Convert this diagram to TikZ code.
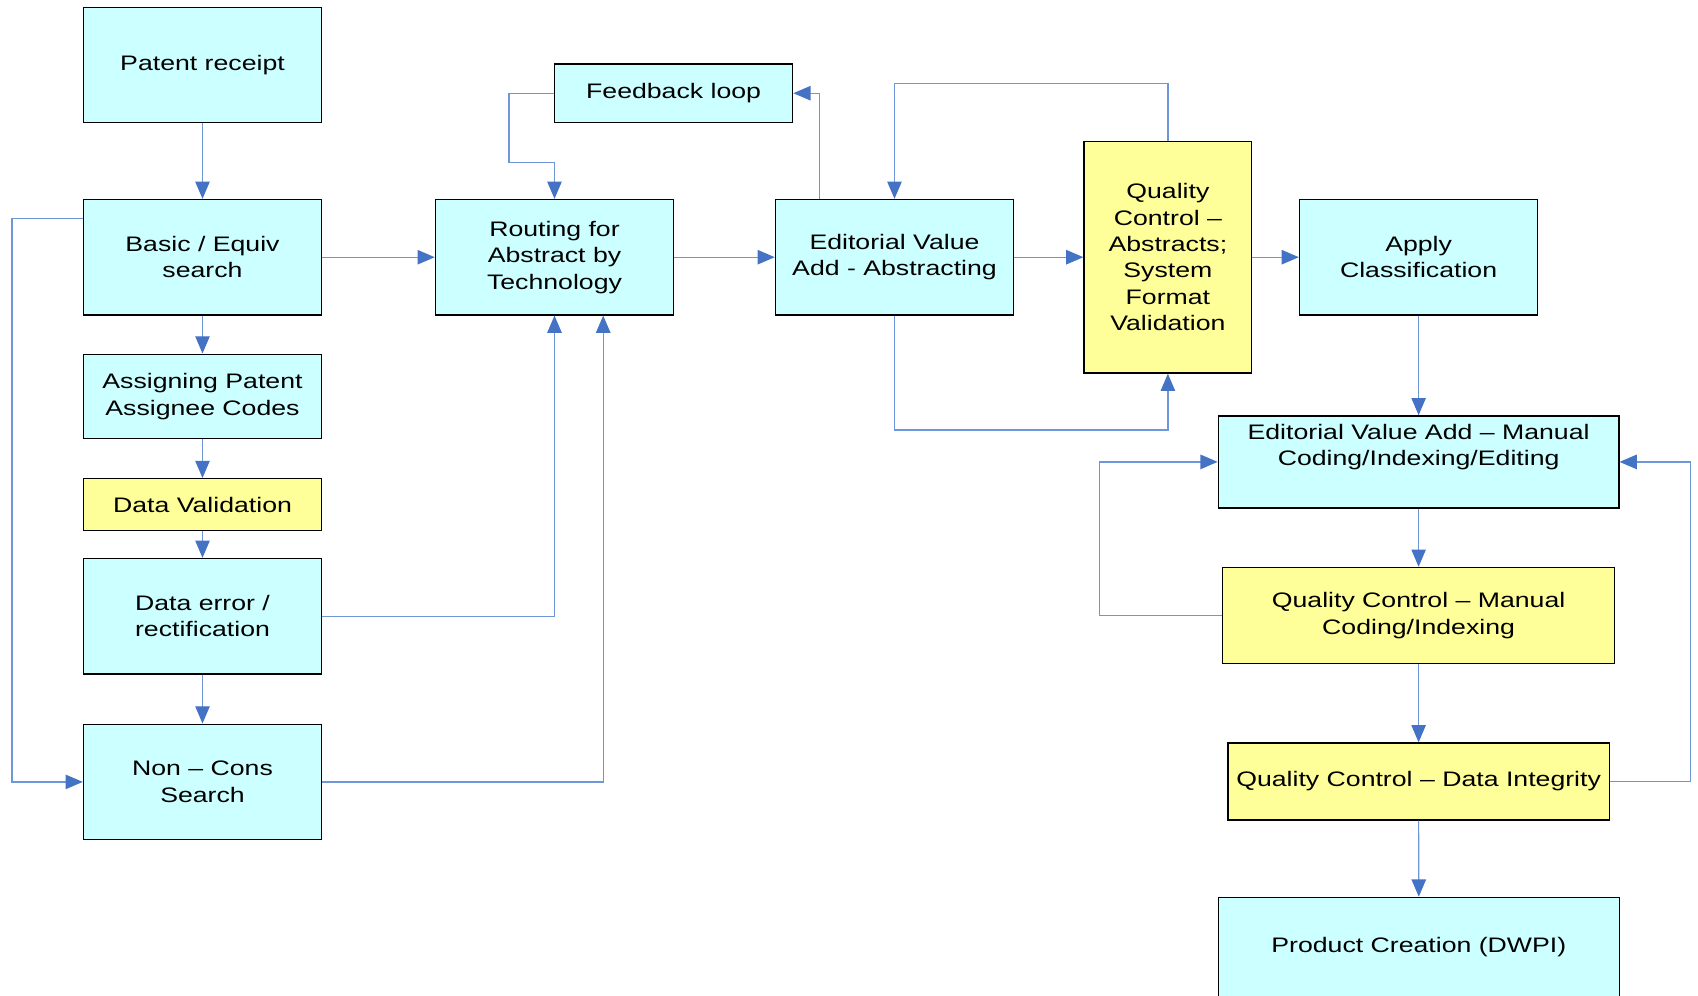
\documentclass[tikz,border=0pt]{standalone}
\usepackage{fontspec}
\setmainfont{Liberation Sans}[FakeStretch=1.27]
\usetikzlibrary{arrows.meta}
\definecolor{boxcyan}{HTML}{CCFFFF}
\definecolor{boxyellow}{HTML}{FFFF99}
\definecolor{lineblue}{HTML}{6F96D6}
\definecolor{tipblue}{HTML}{4472C4}
\begin{document}
\begin{tikzpicture}[x=0.5pt,y=-0.5pt,
  txt/.style={font={\fontsize{10.5pt}{13.2pt}\selectfont}},
  box/.style={txt,draw=black,line width=0.65pt,fill=boxcyan,inner sep=0pt,align=center,
              minimum width=119.1pt,minimum height=57.75pt},
  ybox/.style={box,fill=boxyellow},
  lbl/.style={txt,inner sep=0pt,align=center},
  conn/.style={draw=lineblue,line width=0.6pt,-{Triangle[length=8.6pt,width=7.2pt,color=tipblue]}}]

\useasboundingbox (0,0) rectangle (1698,996);

% left column
\node[box,minimum height=57.4pt] (pat) at (202.5,65) {Patent receipt};
\node[box] (basic) at (202.5,257.2) {Basic / Equiv\\search};
\node[box,minimum height=42.25pt] (assign) at (202.5,396.4) {Assigning Patent\\Assignee Codes};
\node[ybox,minimum height=26pt] (valid) at (202.5,504.6) {Data Validation};
\node[box] (err) at (202.5,616.2) {Data error /\\rectification};
\node[box] (noncons) at (202.5,781.9) {Non -- Cons\\Search};

% middle row
\node[box,minimum height=29.25pt] (feed) at (673.6,93.2) {Feedback loop};
\node[box] (route) at (554.5,257.2) {Routing for\\Abstract by\\Technology};
\node[box] (edab) at (894.5,257.2) {Editorial Value\\Add - Abstracting};
\node[ybox,minimum width=83.9pt,minimum height=115.85pt] (qca) at (1167.9,257.2)
  {Quality\\Control --\\Abstracts;\\System\\Format\\Validation};
\node[box] (apply) at (1418.6,257.2) {Apply\\Classification};

% right column
\node[box,minimum width=200.3pt,minimum height=46.05pt] (edman) at (1418.6,461.9) {};
\node[lbl] (edmant) at (1418.6,447.2) {Editorial Value Add -- Manual\\Coding/Indexing/Editing};
\node[ybox,minimum width=196pt,minimum height=48.2pt] (qcman) at (1418.6,615.6)
  {Quality Control -- Manual\\Coding/Indexing};
\node[ybox,minimum width=190.6pt,minimum height=38.45pt] (qcdi) at (1418.6,781.4)
  {Quality Control -- Data Integrity};
\node[box,minimum width=200.5pt,minimum height=61.35pt] (prod) at (1418.8,958.65) {};
\node[lbl] (prodt) at (1418.8,946.7) {Product Creation (DWPI)};

% connectors, left column
\draw[conn] (pat) -- (basic);
\draw[conn] (basic) -- (assign);
\draw[conn] (assign) -- (valid);
\draw[conn] (valid) -- (err);
\draw[conn] (err) -- (noncons);
\coordinate (lb) at (11.9,218.7);
\draw[conn] (basic.west |- lb) -- (lb) |- (noncons.west);
\draw[conn] (basic) -- (route);
\draw[conn] (err.east) -| (route.south);
\draw[conn] (noncons.east) -| ([xshift=24.35pt]route.south);

% feedback
\coordinate (fb) at (509,162.4);
\draw[conn] (feed.west) -| (fb) -| (route.north);
\draw[conn] ([xshift=-37.35pt]edab.north) |- (feed.east);

% middle flow
\draw[conn] (route) -- (edab);
\draw[conn] (edab) -- (qca);
\draw[conn] (qca) -- (apply);
\coordinate (qt) at (1167.9,83.4);
\draw[conn] (qca.north) -- (qt) -| (edab.north);
\coordinate (eb) at (894.5,430);
\draw[conn] (edab.south) -- (eb) -| (qca.south);

% right column
\draw[conn] (apply) -- (edman);
\draw[conn] (edman) -- (qcman);
\coordinate (ml) at (1099.1,615.6);
\draw[conn] (qcman.west) -- (ml) |- (edman.west);
\draw[conn] (qcman) -- (qcdi);
\coordinate (mr) at (1690.4,781.4);
\draw[conn] (qcdi.east) -- (mr) |- (edman.east);
\draw[conn] (qcdi.south) -- (prod.north);
\end{tikzpicture}
\end{document}
